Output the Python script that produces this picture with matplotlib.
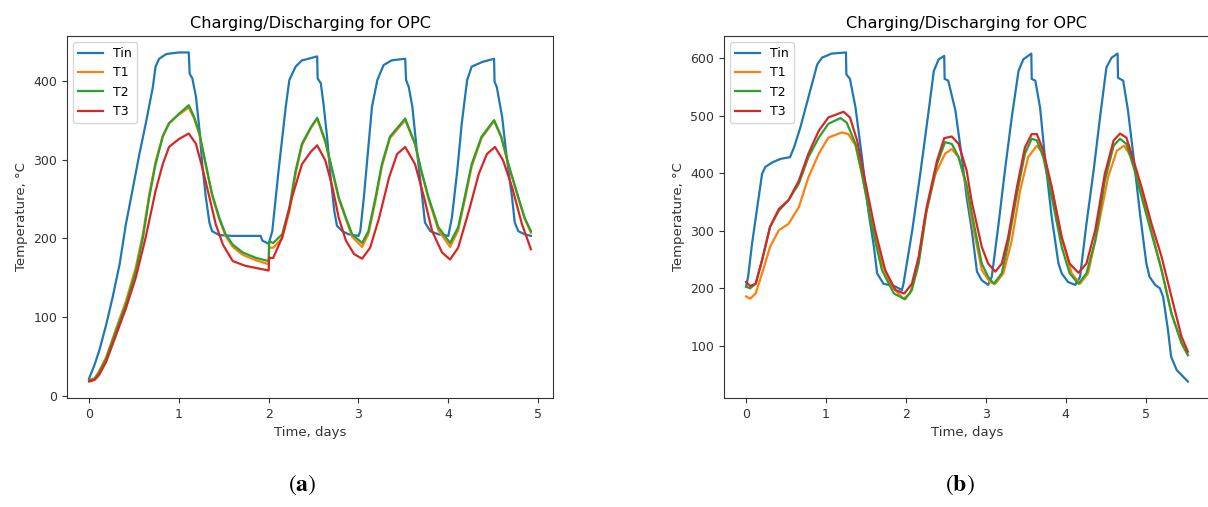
import matplotlib
matplotlib.use("Agg")
import matplotlib.pyplot as plt

# ---------------- data: panel (a) ----------------
a_t_tin = [0, 0.06, 0.115, 0.19, 0.26, 0.34, 0.41, 0.49, 0.56, 0.63, 0.71, 0.74, 0.78, 0.86, 1.0, 1.11,
           1.12, 1.15, 1.19, 1.23, 1.26, 1.30, 1.34, 1.37, 1.45, 1.60, 1.91, 1.93, 2.0, 2.04, 2.11, 2.19,
           2.23, 2.30, 2.37, 2.41, 2.54, 2.545, 2.58, 2.61, 2.65, 2.69, 2.73, 2.76, 2.82, 2.89, 3.0, 3.02,
           3.06, 3.10, 3.15, 3.21, 3.28, 3.37, 3.52, 3.53, 3.56, 3.60, 3.65, 3.71, 3.74, 3.80, 3.89, 4.0,
           4.04, 4.10, 4.15, 4.21, 4.26, 4.38, 4.51, 4.515, 4.54, 4.60, 4.65, 4.71, 4.74, 4.78, 4.85, 4.92]
a_tin = [22, 39, 58, 90, 124, 167, 218, 265, 307, 345, 392, 418, 428, 434, 436, 436,
         409, 403, 380, 337, 294, 252, 220, 209, 204, 203, 203, 197, 193, 209, 286, 367,
         401, 418, 426, 427, 431, 403, 397, 371, 329, 277, 235, 216, 209, 205, 203, 209,
         252, 303, 367, 401, 420, 426, 428, 401, 392, 367, 311, 252, 220, 209, 205, 203,
         226, 286, 346, 401, 418, 424, 428, 399, 392, 354, 303, 252, 220, 209, 205, 203]

a_t_12 = [0, 0.06, 0.11, 0.19, 0.30, 0.41, 0.52, 0.60, 0.67, 0.74, 0.82, 0.89, 1.0, 1.11, 1.17, 1.23,
          1.30, 1.37, 1.45, 1.52, 1.60, 1.71, 1.86, 2.0, 2.005, 2.05, 2.15, 2.23, 2.30, 2.37, 2.47, 2.54,
          2.63, 2.71, 2.78, 2.86, 2.93, 3.04, 3.11, 3.19, 3.26, 3.35, 3.52, 3.63, 3.70, 3.78, 3.89, 4.02,
          4.11, 4.19, 4.26, 4.37, 4.51, 4.59, 4.67, 4.78, 4.85, 4.92]
a_t1 = [20, 22, 31, 49, 85, 120, 163, 206, 256, 297, 330, 346, 357, 366, 352, 331,
        292, 254, 224, 203, 189, 179, 172, 167, 188, 188, 200, 234, 282, 318, 340, 352,
        322, 284, 250, 224, 202, 189, 205, 248, 291, 327, 350, 319, 284, 250, 210, 189,
        210, 252, 291, 327, 349, 328, 293, 251, 225, 207]
a_t2 = [20, 21, 29, 47, 82, 116, 158, 201, 252, 294, 329, 346, 358, 369, 354, 333,
        294, 256, 226, 205, 192, 182, 175, 171, 196, 194, 205, 239, 286, 320, 341, 353,
        324, 286, 252, 226, 205, 194, 209, 252, 294, 329, 352, 320, 286, 252, 214, 194,
        214, 256, 294, 329, 350, 329, 294, 252, 226, 209]

a_t_3 = [0, 0.06, 0.11, 0.19, 0.30, 0.41, 0.52, 0.63, 0.74, 0.82, 0.89, 1.0, 1.11, 1.19, 1.26, 1.34,
         1.41, 1.49, 1.60, 1.74, 2.0, 2.005, 2.05, 2.15, 2.26, 2.37, 2.47, 2.54, 2.63, 2.71, 2.78, 2.86,
         2.95, 3.04, 3.13, 3.23, 3.34, 3.43, 3.52, 3.63, 3.73, 3.82, 3.93, 4.02, 4.11, 4.23, 4.34, 4.43,
         4.52, 4.61, 4.71, 4.82, 4.92]
a_t3 = [18, 20, 26, 43, 77, 111, 150, 201, 260, 294, 316, 326, 333, 320, 290, 252,
        218, 192, 171, 165, 159, 175, 175, 201, 252, 294, 310, 318, 299, 265, 226, 197,
        180, 174, 188, 226, 277, 307, 316, 294, 252, 209, 182, 173, 188, 235, 282, 307,
        316, 299, 265, 218, 186]

# ---------------- data: panel (b) ----------------
b_t_tin = [0, 0.025, 0.075, 0.14, 0.2, 0.24, 0.33, 0.43, 0.55, 0.6, 0.68, 0.78, 0.89, 0.95, 1.07, 1.25,
           1.255, 1.30, 1.37, 1.45, 1.53, 1.60, 1.64, 1.72, 1.87, 1.95, 1.97, 2.08, 2.18, 2.28, 2.35, 2.41,
           2.48, 2.485, 2.53, 2.62, 2.70, 2.76, 2.825, 2.89, 2.95, 3.03, 3.075, 3.16, 3.24, 3.325, 3.41,
           3.47, 3.57, 3.575, 3.62, 3.68, 3.74, 3.825, 3.91, 3.95, 4.03, 4.12, 4.18, 4.26, 4.35, 4.43,
           4.51, 4.575, 4.65, 4.655, 4.72, 4.78, 4.85, 4.93, 5.01, 5.05, 5.12, 5.18, 5.22, 5.28, 5.32,
           5.39, 5.53]
b_tin = [203, 220, 278, 341, 399, 411, 419, 425, 428, 445, 480, 532, 589, 601, 608, 610,
         572, 564, 514, 428, 335, 272, 226, 208, 203, 197, 208, 301, 399, 503, 578, 598,
         604, 564, 561, 509, 428, 359, 301, 229, 214, 206, 220, 312, 405, 497, 578,
         598, 608, 564, 561, 514, 428, 324, 243, 226, 211, 206, 220, 312, 405, 497,
         584, 601, 608, 566, 561, 509, 428, 330, 243, 220, 206, 200, 185, 128, 81,
         58, 38]

b_t_1 = [0, 0.05, 0.12, 0.2, 0.30, 0.41, 0.53, 0.66, 0.78, 0.91, 1.03, 1.2, 1.28, 1.37, 1.45, 1.575,
         1.7, 1.825, 1.97, 2.05, 2.14, 2.24, 2.37, 2.49, 2.575, 2.66, 2.76, 2.825, 2.95, 3.05, 3.12,
         3.22, 3.325, 3.43, 3.53, 3.64, 3.72, 3.825, 3.95, 4.075, 4.18, 4.28, 4.4, 4.53, 4.64, 4.73,
         4.825, 4.95, 5.075, 5.2, 5.325, 5.45, 5.53]
b_t1 = [186, 182, 191, 226, 272, 301, 312, 341, 393, 434, 462, 471, 468, 448, 399, 312,
        243, 203, 182, 191, 232, 324, 399, 434, 442, 428, 375, 318, 232, 211, 208,
        226, 283, 370, 428, 448, 434, 376, 289, 226, 208, 226, 301, 393, 439, 448,
        428, 370, 301, 232, 156, 105, 84]

b_t_2 = [0, 0.05, 0.12, 0.2, 0.30, 0.41, 0.53, 0.66, 0.78, 0.91, 1.03, 1.18, 1.26, 1.37, 1.45, 1.575,
         1.7, 1.85, 1.99, 2.075, 2.16, 2.26, 2.39, 2.49, 2.575, 2.66, 2.76, 2.825, 2.95, 3.03, 3.1,
         3.2, 3.28, 3.39, 3.49, 3.575, 3.64, 3.72, 3.825, 3.95, 4.05, 4.16, 4.26, 4.37, 4.49, 4.6,
         4.68, 4.76, 4.85, 4.95, 5.075, 5.2, 5.325, 5.45, 5.53]
b_t2 = [203, 200, 208, 249, 307, 335, 353, 382, 428, 462, 486, 496, 488, 451, 399, 307,
        232, 191, 181, 197, 243, 335, 416, 454, 451, 428, 380, 330, 243, 220, 208,
        226, 278, 364, 434, 460, 457, 428, 359, 272, 226, 208, 226, 283, 387, 448,
        460, 451, 411, 359, 295, 232, 156, 105, 84]

b_t_3 = [0, 0.05, 0.12, 0.2, 0.30, 0.41, 0.53, 0.66, 0.78, 0.91, 1.03, 1.22, 1.30, 1.39, 1.49, 1.615,
         1.74, 1.87, 1.98, 2.075, 2.16, 2.26, 2.39, 2.48, 2.575, 2.66, 2.76, 2.825, 2.95, 3.03, 3.12,
         3.2, 3.28, 3.39, 3.49, 3.575, 3.64, 3.72, 3.825, 3.95, 4.05, 4.16, 4.26, 4.37, 4.49, 4.6,
         4.68, 4.76, 4.85, 4.95, 5.075, 5.2, 5.325, 5.45, 5.53]
b_t3 = [211, 204, 208, 249, 307, 338, 353, 387, 434, 474, 497, 507, 497, 457, 387, 301,
        232, 197, 191, 208, 255, 341, 422, 461, 464, 451, 405, 350, 272, 243, 229,
        243, 289, 376, 445, 468, 468, 439, 376, 289, 243, 227, 243, 301, 399, 457,
        469, 462, 422, 376, 312, 255, 185, 116, 90]

series_names = ["Tin", "T1", "T2", "T3"]
title = "Charging/Discharging for OPC"
xlabel = "Time, days"
ylabel = "Temperature, °C"
panel_labels = [r"$(\mathbf{a})$", r"$(\mathbf{b})$"]

plt.rcParams["font.family"] = ["DejaVu Sans"]
plt.rcParams["mathtext.fontset"] = "stix"

fig = plt.figure(figsize=(12.08, 5.07), dpi=100)
ax_a = fig.add_axes([67 / 1208, 109 / 507, 486 / 1208, 362 / 507])
ax_b = fig.add_axes([724 / 1208, 109 / 507, 486 / 1208, 362 / 507])

panels = [
    (ax_a, [(a_t_tin, a_tin), (a_t_12, a_t1), (a_t_12, a_t2), (a_t_3, a_t3)], [0, 100, 200, 300, 400]),
    (ax_b, [(b_t_tin, b_tin), (b_t_1, b_t1), (b_t_2, b_t2), (b_t_3, b_t3)], [100, 200, 300, 400, 500, 600]),
]
colors = ["#1f77b4", "#ff7f0e", "#2ca02c", "#d62728"]

for ax, series, yt in panels:
    for (t, v), name, c in zip(series, series_names, colors):
        ax.plot(t, v, color=c, lw=1.6, label=name)
    ax.set_title(title, fontsize=11.6, pad=6)
    ax.set_xlabel(xlabel, fontsize=9.5, color="#333333")
    ax.set_ylabel(ylabel, fontsize=9.5, color="#333333")
    ax.set_yticks(yt)
    ax.set_xticks([0, 1, 2, 3, 4, 5])
    ax.tick_params(labelsize=9, colors="#333333")
    for s in ax.spines.values():
        s.set_color("#333333")
    ax.legend(loc="upper left", fontsize=9)

fig.text(302 / 1208, 1 - 485 / 507, panel_labels[0], fontsize=17, ha="center", va="center")
fig.text(960 / 1208, 1 - 485 / 507, panel_labels[1], fontsize=17, ha="center", va="center")

fig.savefig("out.png", dpi=100)
